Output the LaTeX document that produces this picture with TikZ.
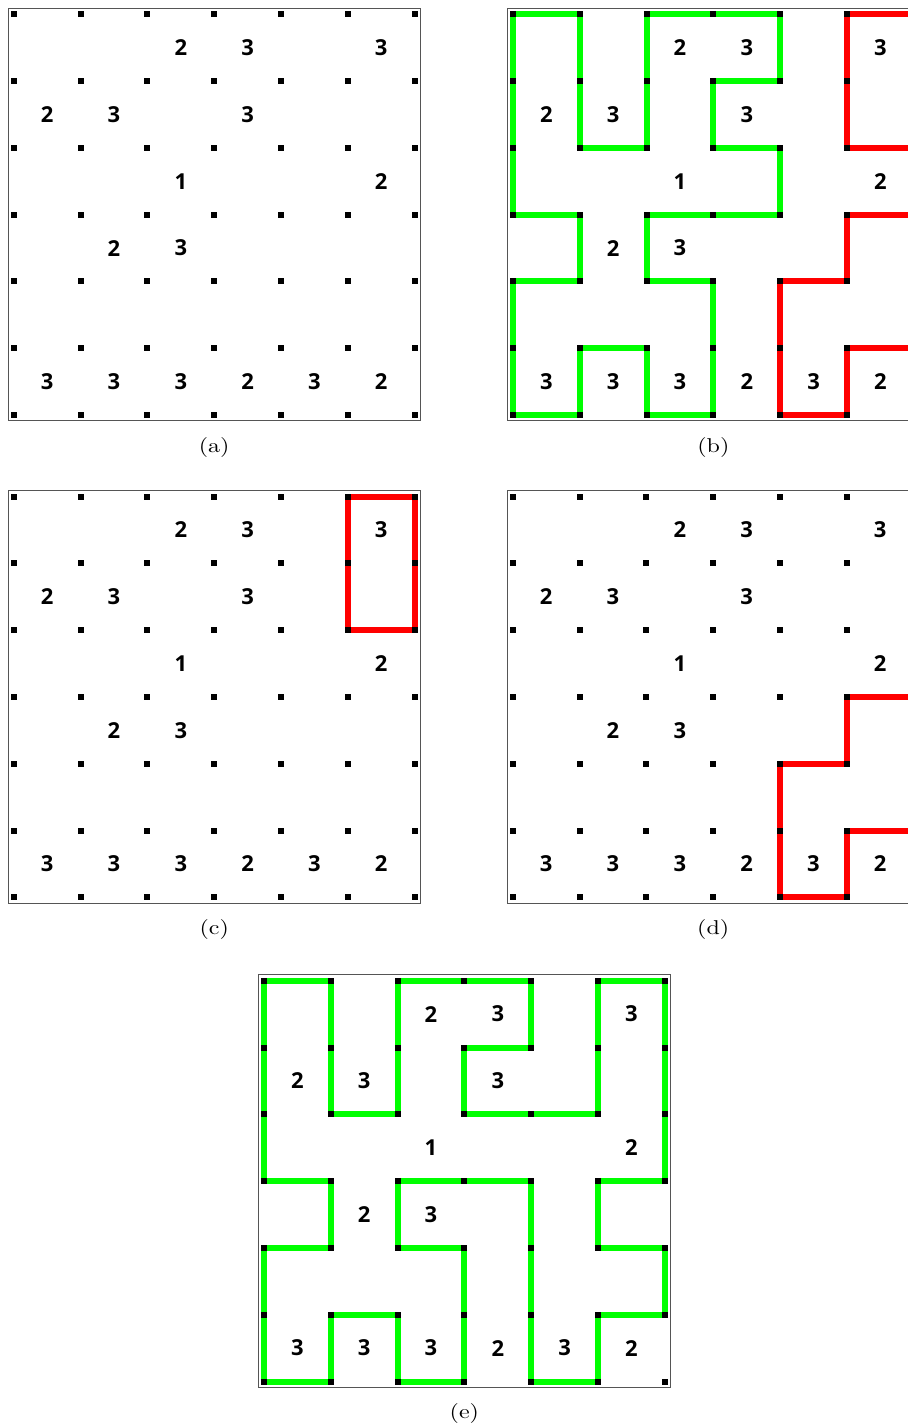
\documentclass[tikz,border=0pt]{standalone}
\usepackage{fontspec}
\usepackage{tikz}
\usetikzlibrary{calc}
\newfontfamily\cluefont{Open Sans}
\definecolor{loopgreen}{HTML}{00FF00}
\definecolor{looperr}{HTML}{FF0000}
\definecolor{framegray}{HTML}{555555}

% one board: prefix, x and y of the top left dot (px)
\newcommand{\slboard}[3]{%
  \draw[boardframe] ({#2-5.8},{#3-5.8}) rectangle ({#2+406.6},{#3+406.6});
  \foreach \i in {0,...,6}{
    \foreach \j in {0,...,6}{
      \coordinate (#1-\i-\j) at ({#2+\i*66.8},{#3+\j*66.8});
    }
  }
  \foreach \c/\r/\v in {2/0/2,3/0/3,5/0/3, 0/1/2,1/1/3,3/1/3, 2/2/1,5/2/2,
                        1/3/2,2/3/3, 0/5/3,1/5/3,2/5/3,3/5/2,4/5/3,5/5/2}{
    \node[clue] (#1-n-\c-\r) at ({#2+\c*66.8+33.4},{#3+\r*66.8+33.4}) {\v};
  }
  \node[sublabel] (#1-cap) at ({#2+200.4},{#3+432.8}) {(#1)};
}
% dots on top of the edges
\newcommand{\slpegs}[1]{%
  \foreach \i in {0,...,6}{
    \foreach \j in {0,...,6}{
      \node[peg] (#1-p-\i-\j) at (#1-\i-\j) {};
    }
  }
}

\begin{document}
\begin{tikzpicture}[
  x=0.5pt, y=-0.5pt,
  boardframe/.style={draw=framegray, line width=0.5pt},
  clue/.style={font=\cluefont\bfseries\fontsize{11}{13}\selectfont, inner sep=0pt},
  sublabel/.style={font=\normalsize, xscale=1.2, inner sep=0pt},
  peg/.style={fill=black, minimum size=3pt, inner sep=0pt, outer sep=0pt},
  good/.style={draw=loopgreen, line width=3pt},
  bad/.style={draw=looperr, line width=3pt}
]
\useasboundingbox (0,0) rectangle (908,1427);
\clip (0,0) rectangle (908,1427);

% boards
\slboard{a}{13.8}{14.3}
\slboard{b}{513}{14.3}
\slboard{c}{13.8}{496.5}
\slboard{d}{512.8}{496.5}
\slboard{e}{264}{980.7}

% (b): wrong loop and dead ends
\draw[good] (b-0-0) -- (b-1-0) -- (b-1-2) -- (b-2-2) -- (b-2-0) -- (b-4-0) -- (b-4-1)
  -- (b-3-1) -- (b-3-2) -- (b-4-2) -- (b-4-3) -- (b-2-3) -- (b-2-4) -- (b-3-4) -- (b-3-6)
  -- (b-2-6) -- (b-2-5) -- (b-1-5) -- (b-1-6) -- (b-0-6) -- (b-0-4) -- (b-1-4) -- (b-1-3)
  -- (b-0-3) -- cycle;
\draw[bad] (b-6-0) -- (b-5-0) -- (b-5-2) -- (b-6-2);
\draw[bad] (b-6-3) -- (b-5-3) -- (b-5-4) -- (b-4-4) -- (b-4-6) -- (b-5-6) -- (b-5-5) -- (b-6-5);

% (c)
\draw[bad] (c-5-0) -- (c-6-0) -- (c-6-2) -- (c-5-2) -- cycle;

% (d)
\draw[bad] (d-6-3) -- (d-5-3) -- (d-5-4) -- (d-4-4) -- (d-4-6) -- (d-5-6) -- (d-5-5) -- (d-6-5);

% (e): solution
\draw[good] (e-0-0) -- (e-1-0) -- (e-1-2) -- (e-2-2) -- (e-2-0) -- (e-4-0) -- (e-4-1)
  -- (e-3-1) -- (e-3-2) -- (e-5-2) -- (e-5-0) -- (e-6-0) -- (e-6-3) -- (e-5-3) -- (e-5-4)
  -- (e-6-4) -- (e-6-5) -- (e-5-5) -- (e-5-6) -- (e-4-6) -- (e-4-3) -- (e-2-3) -- (e-2-4)
  -- (e-3-4) -- (e-3-6) -- (e-2-6) -- (e-2-5) -- (e-1-5) -- (e-1-6) -- (e-0-6) -- (e-0-4)
  -- (e-1-4) -- (e-1-3) -- (e-0-3) -- cycle;

\slpegs{a}
\slpegs{b}
\slpegs{c}
\slpegs{d}
\slpegs{e}

\end{tikzpicture}
\end{document}
